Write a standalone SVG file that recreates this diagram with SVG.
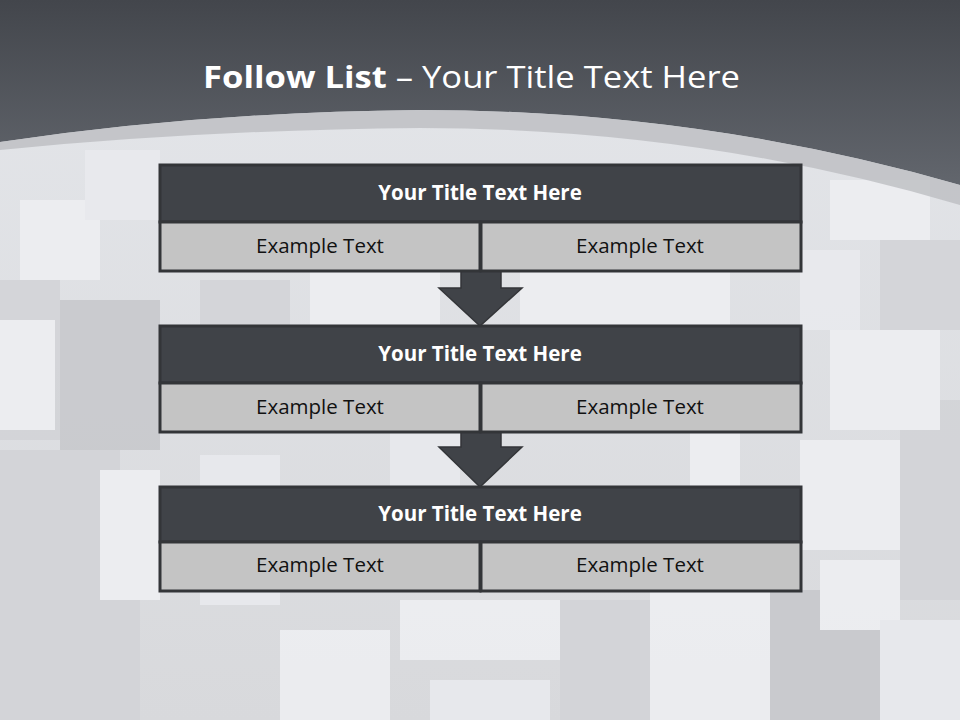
<svg xmlns="http://www.w3.org/2000/svg" width="960" height="720" viewBox="0 0 960 720">
<defs>
<linearGradient id="hdr" x1="0" y1="0" x2="0" y2="1">
<stop offset="0" stop-color="#43464c"/>
<stop offset="1" stop-color="#62666d"/>
</linearGradient>
<linearGradient id="bg" x1="0" y1="0" x2="0" y2="1">
<stop offset="0" stop-color="#e4e6ea"/>
<stop offset="1" stop-color="#d8d9dc"/>
</linearGradient>
<style>
.t{fill:#404348;stroke:#333538;stroke-width:3}
.s{fill:#c4c4c4;stroke:#333538;stroke-width:3}
.tt{font-family:"Open Sans","Liberation Sans",sans-serif;font-weight:bold;font-size:20.5px;fill:#ffffff;text-anchor:middle}
.et{font-family:"Open Sans","Liberation Sans",sans-serif;font-size:20.5px;fill:#111111;text-anchor:middle}
.arr{fill:#404348;stroke:#333538;stroke-width:1.5}
.c1{fill:#eeeff2}
.c2{fill:#d3d4d8}
.c3{fill:#c8c9cd}
.c4{fill:#e9eaee}
</style>
</defs>
<rect width="960" height="720" fill="url(#bg)"/>
<g id="cubes" opacity="0.9">
<rect class="c2" x="0" y="280" width="60" height="160"/>
<rect class="c1" x="0" y="320" width="55" height="110"/>
<rect class="c3" x="60" y="300" width="100" height="150"/>
<rect class="c1" x="20" y="200" width="80" height="80"/>
<rect class="c4" x="85" y="150" width="75" height="70"/>
<rect class="c2" x="0" y="450" width="120" height="160"/>
<rect class="c1" x="100" y="470" width="60" height="130"/>
<rect class="c4" x="200" y="455" width="80" height="150"/>
<rect class="c2" x="0" y="600" width="140" height="120"/>
<rect class="c1" x="280" y="630" width="110" height="90"/>
<rect class="c1" x="400" y="600" width="160" height="60"/>
<rect class="c4" x="430" y="680" width="120" height="40"/>
<rect class="c2" x="560" y="600" width="90" height="120"/>
<rect class="c1" x="650" y="590" width="120" height="130"/>
<rect class="c3" x="770" y="590" width="120" height="130"/>
<rect class="c1" x="820" y="560" width="80" height="70"/>
<rect class="c4" x="880" y="620" width="80" height="100"/>
<rect class="c1" x="800" y="440" width="110" height="110"/>
<rect class="c2" x="900" y="400" width="60" height="200"/>
<rect class="c1" x="830" y="330" width="110" height="100"/>
<rect class="c4" x="800" y="250" width="60" height="80"/>
<rect class="c1" x="830" y="180" width="100" height="60"/>
<rect class="c2" x="880" y="240" width="80" height="90"/>
<rect class="c1" x="310" y="270" width="130" height="55"/>
<rect class="c1" x="520" y="270" width="210" height="55"/>
<rect class="c4" x="390" y="432" width="70" height="55"/>
<rect class="c1" x="690" y="432" width="50" height="55"/>
<rect class="c2" x="200" y="280" width="90" height="45"/>
</g>
<path d="M0,0 H960 V185 Q700,110 420,110 Q200,112 0,142 Z" fill="url(#hdr)"/>
<path d="M0,142 Q200,112 420,110 Q700,110 960,185 V205 Q700,128 420,128 Q200,130 0,150 Z" fill="#b9bbbf" opacity="0.75"/>
<text x="203" y="88" font-family="'Open Sans','Liberation Sans',sans-serif" font-size="31" fill="#ffffff" textLength="537" lengthAdjust="spacingAndGlyphs"><tspan font-weight="bold">Follow List</tspan>  – Your Title Text Here</text>
<g id="connectors">
<path class="arr" d="M461,271 H501 V288 H522 L480,326 L439,288 H461 Z"/>
<path class="arr" d="M461,432 H501 V447 H522 L480,487 L439,447 H461 Z"/>
</g>
<g id="node1">
<rect class="t" x="160" y="165" width="641" height="57"/>
<rect class="s" x="160" y="222" width="320" height="49"/>
<rect class="s" x="481" y="222" width="320" height="49"/>
<text class="tt" x="480" y="200">Your Title Text Here</text>
<text class="et" x="320" y="253">Example Text</text>
<text class="et" x="640" y="253">Example Text</text>
</g>
<g id="node2">
<rect class="t" x="160" y="326" width="641" height="57"/>
<rect class="s" x="160" y="383" width="320" height="49"/>
<rect class="s" x="481" y="383" width="320" height="49"/>
<text class="tt" x="480" y="361">Your Title Text Here</text>
<text class="et" x="320" y="414">Example Text</text>
<text class="et" x="640" y="414">Example Text</text>
</g>
<g id="node3">
<rect class="t" x="160" y="487" width="641" height="55"/>
<rect class="s" x="160" y="542" width="320" height="49"/>
<rect class="s" x="481" y="542" width="320" height="49"/>
<text class="tt" x="480" y="521">Your Title Text Here</text>
<text class="et" x="320" y="572">Example Text</text>
<text class="et" x="640" y="572">Example Text</text>
</g>
</svg>
